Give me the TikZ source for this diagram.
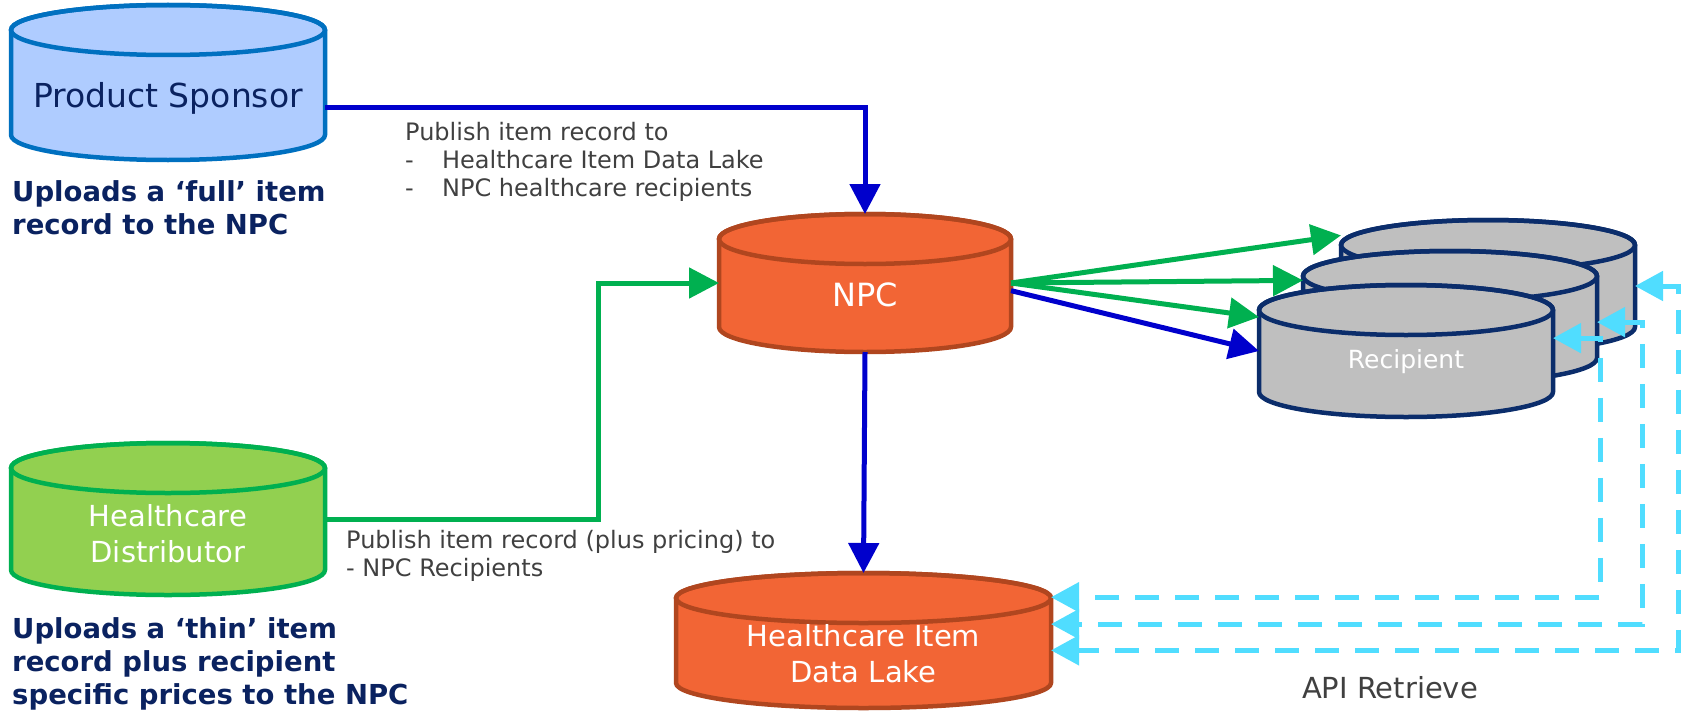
\documentclass[tikz,border=0pt]{standalone}
\usepackage{fontspec}
\setmainfont{DejaVu Sans}
\usetikzlibrary{arrows.meta,calc}

\definecolor{sponsorfill}{HTML}{AFCCFF}
\definecolor{sponsorline}{HTML}{0070C0}
\definecolor{npcfill}{HTML}{F26535}
\definecolor{npcline}{HTML}{B0461F}
\definecolor{distfill}{HTML}{92D050}
\definecolor{distline}{HTML}{00B050}
\definecolor{recfill}{HTML}{BFBFBF}
\definecolor{recline}{HTML}{0B2D6B}
\definecolor{pubblue}{HTML}{0000CC}
\definecolor{pubgreen}{HTML}{00B050}
\definecolor{apicyan}{HTML}{50DDFF}
\definecolor{notegray}{HTML}{404040}
\definecolor{navy}{HTML}{0A2260}

% #1 name, #2 centre, #3 width, #4 height, #5 fill, #6 line
\newcommand{\datastore}[6]{%
  \node[minimum width=#3pt, minimum height=#4pt, inner sep=0pt, outer sep=0pt] (#1) at (#2) {};
  \draw[fill=#5, draw=#6, line width=4.5pt, line join=round]
    ([yshift=-25pt]#1.north west) -- ([yshift=25pt]#1.south west)
    arc[start angle=180, end angle=360, x radius=#3pt/2, y radius=25pt]
    -- ([yshift=-25pt]#1.north east)
    arc[start angle=0, end angle=180, x radius=#3pt/2, y radius=25pt] -- cycle;
  \draw[draw=#6, line width=4.5pt] ([yshift=-25pt]#1.north) ellipse[x radius=#3pt/2, y radius=25pt];
}

\begin{document}
\begin{tikzpicture}[x=1pt, y=-1pt,
    dbtext/.style={font=\fontsize{29}{36}\selectfont, align=center},
    note/.style={font=\fontsize{24}{28}\selectfont, text=notegray, align=left, anchor=north west, inner sep=0pt},
    upload/.style={font=\bfseries\fontsize{27.5}{33}\selectfont, text=navy, align=left, anchor=north west, inner sep=0pt},
    bluearr/.style={draw=pubblue, line width=5pt, -{Triangle[length=30pt,width=30pt]}},
    greenarr/.style={draw=pubgreen, line width=5pt, -{Triangle[length=30pt,width=30pt]}},
    apiline/.style={draw=apicyan, line width=5pt, dash pattern=on 24pt off 16pt,
      {Triangle[length=28pt,width=29pt]}-{Triangle[length=28pt,width=29pt]}}]
  \useasboundingbox (0,0) rectangle (1696,717);

  % data stores
  \datastore{sponsor}{168,82.5}{314}{155}{sponsorfill}{sponsorline}
  \datastore{distributor}{168,519}{314}{152}{distfill}{distline}
  \datastore{npc}{865,283}{292}{138}{npcfill}{npcline}
  \datastore{lake}{863.5,640.5}{375}{135}{npcfill}{npcline}
  \foreach \rec/\cx/\cy in {recb/1488/286, recm/1450/317, recf/1406/351}{
    \datastore{\rec}{\cx,\cy}{294}{132}{recfill}{recline}
  }

  \node[dbtext, text=navy, font=\fontsize{33}{36}\selectfont] (sponsor-txt) at ([yshift=-16pt]sponsor.center) {Product Sponsor};
  \node[dbtext, text=white] (distributor-txt) at ([yshift=-15pt]distributor.center) {Healthcare\\Distributor};
  \node[dbtext, text=white, font=\fontsize{32}{36}\selectfont] (npc-txt) at ([yshift=-12pt]npc.center) {NPC};
  \node[dbtext, text=white] (lake-txt) at ([yshift=-13pt]lake.center) {Healthcare Item\\Data Lake};
  \node[dbtext, text=white, font=\fontsize{25}{30}\selectfont] (rec-txt) at ([yshift=-11pt]recf.center) {Recipient};

  % captions
  \node[upload] (full) at (12,180) {Uploads a ‘full’ item\\record to the NPC};
  \node[upload] (thin) at (12,617) {Uploads a ‘thin’ item\\record plus recipient\\specific prices to the NPC};
  \node[note] (pub1) at (405,122) {Publish item record to\\\makebox[37pt][l]{-}Healthcare Item Data Lake\\\makebox[37pt][l]{-}NPC healthcare recipients};
  \node[note] (pub2) at (346,530) {Publish item record (plus pricing) to\\- NPC Recipients};
  \node[note, anchor=center, font=\fontsize{29}{32}\selectfont] (api) at (1390,688) {API Retrieve};

  % publish flows
  \draw[bluearr] (sponsor.-9) -| (npc.90);
  \draw[greenarr] (distributor.0) -| ([xshift=-121pt]npc.180) -- (npc.180);
  \draw[bluearr] (npc.270) -- (lake.90);
  \draw[greenarr] (npc.0) -- (recb.161);
  \draw[greenarr] (npc.0) -- (recm.166);
  \draw[greenarr] (npc.0) -- (recf.167);
  \draw[bluearr] (npc.-3) -- (recf.180);

  % api retrieve
  \draw[apiline] (recf.5) -- ++(47,0) |- (lake.13);
  \draw[apiline] (recm.-2) -- ++(45,0) |- (lake.5);
  \draw[apiline] (recb.0) -- ++(43,0) |- (lake.-3);
\end{tikzpicture}
\end{document}
